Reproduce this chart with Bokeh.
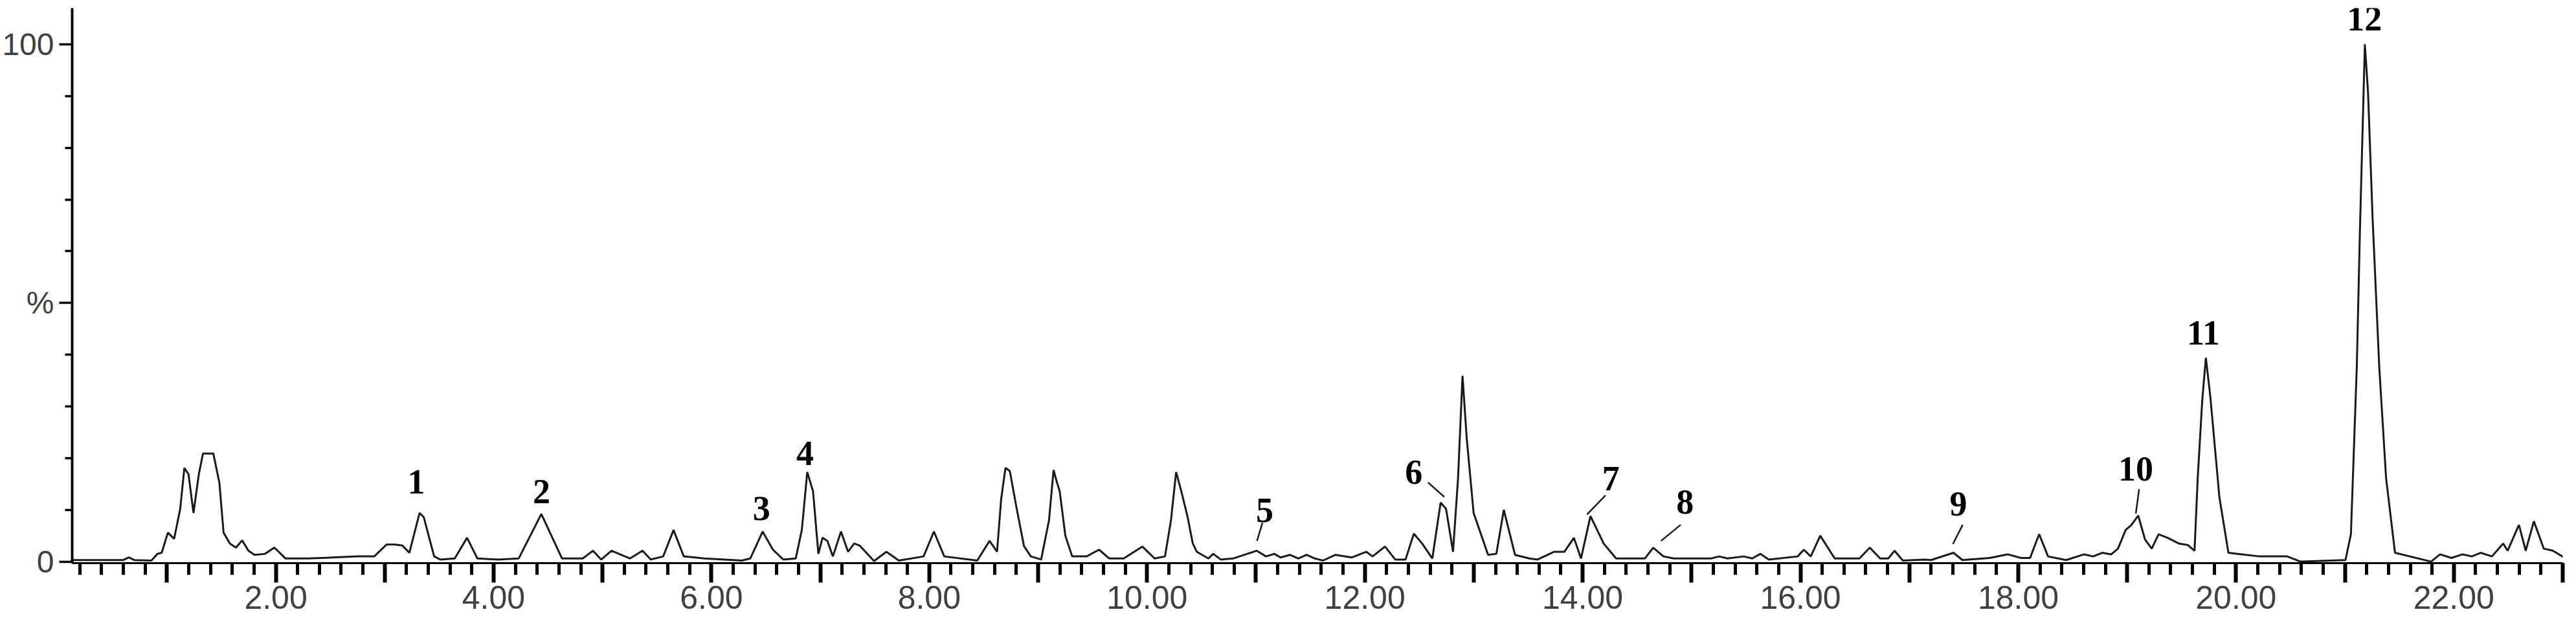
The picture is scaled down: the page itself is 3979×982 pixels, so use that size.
from bokeh.plotting import figure
from bokeh.models import Range1d, FixedTicker, SingleIntervalTicker, ColumnDataSource, CustomJSTickFormatter
from bokeh.core.properties import value
from bokeh.embed import file_html
from bokeh.resources import INLINE

# retention time (min)
times = [0.13, 0.60, 0.65, 0.70, 0.857, 0.914, 0.952, 1.009, 1.066, 1.122, 1.160, 1.198, 1.244, 1.293,
         1.331, 1.426, 1.482, 1.520, 1.578, 1.634, 1.691, 1.748, 1.805, 1.900, 1.987, 2.089, 2.297,
         2.752, 2.904, 3.017, 3.093, 3.162, 3.226, 3.320, 3.358, 3.454, 3.510, 3.643, 3.756, 3.851,
         4.041, 4.230, 4.438, 4.628, 4.818, 4.912, 4.988, 5.083, 5.253, 5.367, 5.443, 5.557, 5.652,
         5.746, 5.936,
         6.281, 6.357, 6.470, 6.565, 6.660, 6.774, 6.830, 6.880, 6.933, 6.982, 7.020, 7.065, 7.115,
         7.190, 7.255, 7.311, 7.361, 7.493, 7.607, 7.721, 7.948, 8.043, 8.138, 8.441, 8.554, 8.623,
         8.660, 8.700, 8.740, 8.800, 8.870, 8.933, 9.028, 9.100, 9.142, 9.170, 9.198, 9.250, 9.313,
         9.445, 9.559, 9.654, 9.786, 9.957, 10.070,
         10.165, 10.220, 10.267, 10.310, 10.373, 10.420, 10.457, 10.563, 10.608, 10.677, 10.790, 11.006,
         11.093, 11.169, 11.226,
         11.313, 11.389, 11.465, 11.541, 11.616, 11.730, 11.882, 12.014, 12.071, 12.185, 12.279, 12.374,
         12.450, 12.526, 12.620, 12.696, 12.746, 12.810, 12.856, 12.897, 12.935, 12.999, 13.132, 13.208,
         13.276, 13.379, 13.511, 13.587, 13.739, 13.833, 13.920, 13.985, 14.072, 14.193, 14.307, 14.572,
         14.648, 14.742, 14.837, 15.178, 15.254, 15.330, 15.481, 15.557, 15.633, 15.709, 15.974, 16.031,
         16.095, 16.182, 16.315, 16.542, 16.637, 16.732, 16.807, 16.864, 16.940, 17.148,
         17.199, 17.405, 17.488, 17.737, 17.902, 18.026, 18.109, 18.192, 18.274, 18.440, 18.605, 18.688,
         18.771, 18.854, 18.916, 18.986, 19.040, 19.102, 19.164, 19.226, 19.289, 19.371, 19.474, 19.557,
         19.619, 19.648, 19.690, 19.723, 19.764, 19.847, 19.930, 20.054, 20.220, 20.469, 20.593, 21.005,
         21.055, 21.109, 21.138, 21.183, 21.212, 21.254, 21.315, 21.378, 21.460, 21.791, 21.874, 21.977,
         22.081, 22.164, 22.246, 22.350, 22.453, 22.494, 22.598, 22.660, 22.735, 22.826, 22.909, 23.054]

# relative intensity (%)
intensity = [0.3, 0.3, 0.8, 0.3, 0.2, 1.5, 1.7, 5.6, 4.4, 10.2, 18.1, 16.9, 9.4, 16.9,
             20.9, 20.9, 15.2, 5.6, 3.5, 2.7, 4.1, 2.1, 1.3, 1.5, 2.7, 0.6, 0.6,
             1.0, 1.0, 3.3, 3.3, 3.1, 1.7, 9.4, 8.6, 1.0, 0.4, 0.6, 4.6, 0.6,
             0.4, 0.6, 9.2, 0.6, 0.6, 2.1, 0.4, 2.1, 0.6, 2.1, 0.4, 1.0, 6.1,
             1.0, 0.6,
             0.2, 0.6, 5.8, 2.3, 0.4, 0.6, 6.1, 17.3, 13.6, 1.5, 4.6, 4.0, 1.0,
             5.8, 1.9, 3.5, 3.1, 0.1, 1.9, 0.2, 1.0, 5.8, 1.0, 0.2, 4.0, 1.9,
             12.0, 18.1, 17.5, 10.6, 3.0, 1.0, 0.4, 8.0, 17.7, 15.5, 13.6, 5.0, 1.0,
             1.0, 2.3, 0.6, 0.6, 2.9, 0.6,
             1.0, 8.0, 17.3, 14.0, 8.6, 3.5, 1.9, 0.6, 1.5, 0.4, 0.6, 2.1,
             1.0, 1.5, 0.8,
             1.3, 0.6, 1.3, 0.6, 0.2, 1.3, 0.8, 1.9, 1.0, 2.9, 0.4, 0.4,
             5.4, 3.5, 0.6, 11.4, 10.2, 1.9, 16.1, 35.9, 24.0, 9.4, 1.3, 1.5,
             10.0, 1.3, 0.6, 0.4, 1.9, 1.9, 4.6, 0.6, 8.8, 3.5, 0.6, 0.6,
             2.7, 1.0, 0.6, 0.6, 1.0, 0.6, 1.0, 0.6, 1.5, 0.4, 1.0, 2.3,
             1.0, 5.0, 0.6, 0.6, 2.7, 0.6, 0.6, 2.1, 0.2, 0.4,
             0.3, 1.7, 0.3, 0.7, 1.4, 0.7, 0.7, 5.3, 1.0, 0.3, 1.4, 1.0,
             1.7, 1.4, 2.5, 6.1, 7.1, 8.9, 4.3, 2.5, 5.3, 4.6, 3.5, 3.2,
             2.1, 16.1, 31.2, 39.4, 31.9, 12.5, 1.7, 1.4, 1.0, 1.0, 0.0, 0.3,
             5.3, 37.7, 64.2, 100.0, 90.8, 66.4, 37.7, 16.1, 1.7, 0.0, 1.4, 0.7,
             1.4, 1.0, 1.7, 1.0, 3.5, 2.1, 7.1, 2.1, 7.8, 2.5, 2.1, 0.3]

# peak number labels
peak_labels = ["1", "2", "3", "4", "5", "6", "7", "8", "9", "10", "11", "12"]
label_time = [3.29, 4.44, 6.46, 6.86, 11.08, 12.45, 14.26, 14.94, 17.45, 19.08, 19.70, 21.18]
label_pct = [15.4, 13.5, 10.3, 20.9, 9.9, 17.3, 16.0, 11.5, 11.1, 17.9, 44.2, 104.9]

# leader lines (label -> peak)
lead_t0 = [11.06, 12.58, 14.21, 14.90, 17.49, 19.11]
lead_p0 = [7.5, 15.3, 12.8, 7.1, 7.1, 14.0]
lead_t1 = [11.01, 12.73, 14.04, 14.72, 17.40, 19.08]
lead_p1 = [4.0, 12.5, 9.1, 4.0, 3.4, 9.3]

y_major = [0, 50, 100]
y_minor = [10, 20, 30, 40, 60, 70, 80, 90]
y_tick_text = {0: "0", 50: "%", 100: "100"}

p = figure(width=3963, height=966, output_backend="svg", toolbar_location=None,
           x_range=Range1d(0.13, 23.0), y_range=Range1d(-0.3, 107),
           min_border_left=110, min_border_right=5, min_border_top=12, min_border_bottom=97)
p.outline_line_color = None
p.grid.visible = False

p.line(times, intensity, line_color="#1a1a1a", line_width=3)

lsrc = ColumnDataSource(dict(x0=lead_t0, y0=lead_p0, x1=lead_t1, y1=lead_p1))
p.segment(x0="x0", y0="y0", x1="x1", y1="y1", source=lsrc, line_color="#1a1a1a", line_width=2.5)

tsrc = ColumnDataSource(dict(x=label_time, y=label_pct, t=peak_labels))
p.text(x="x", y="y", text="t", source=tsrc, text_font=value("Liberation Serif"),
       text_font_style="bold", text_font_size="54px", text_align="center",
       text_baseline="middle", text_color="black")

xa = p.xaxis[0]
xa.ticker = SingleIntervalTicker(interval=1, num_minor_ticks=5)
xa.formatter = CustomJSTickFormatter(
    code="return (Math.round(tick) % 2 == 0) ? tick.toFixed(2) : '';")
xa.axis_line_width = 3
xa.axis_line_color = "black"
xa.major_tick_line_color = "black"
xa.minor_tick_line_color = "black"
xa.major_tick_line_width = 6
xa.minor_tick_line_width = 5
xa.major_tick_in = 0
xa.minor_tick_in = 0
xa.major_tick_out = 30
xa.minor_tick_out = 18
xa.major_label_text_font = "Liberation Sans"
xa.major_label_text_font_size = "50px"
xa.major_label_text_color = "#404040"

ya = p.yaxis[0]
ya.ticker = FixedTicker(ticks=y_major, minor_ticks=y_minor)
ya.major_label_overrides = y_tick_text
ya.axis_line_width = 4
ya.axis_line_color = "black"
ya.major_tick_line_color = "black"
ya.minor_tick_line_color = "black"
ya.major_tick_line_width = 3.5
ya.minor_tick_line_width = 3.5
ya.major_tick_in = 0
ya.minor_tick_in = 0
ya.major_tick_out = 20
ya.minor_tick_out = 11
ya.major_label_text_font = "Liberation Sans"
ya.major_label_text_font_size = "48px"
ya.major_label_text_color = "#404040"
ya.major_label_standoff = 8

open("out.html", "w").write(file_html(p, INLINE))
